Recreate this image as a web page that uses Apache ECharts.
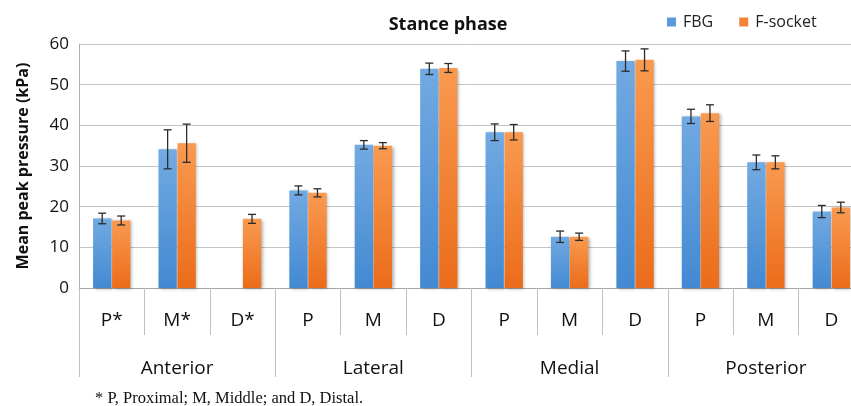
<!DOCTYPE html>
<html>
<head>
<meta charset="utf-8">
<script src="https://cdn.jsdelivr.net/npm/echarts@6/dist/echarts.min.js"></script>
<style>
html,body{margin:0;padding:0;background:#fff;overflow:hidden;width:851px;height:406px;}
#c{width:864px;height:406px;}
#note{position:absolute;left:95px;top:389px;font-family:"Liberation Serif","DejaVu Serif",serif;font-size:16.5px;line-height:18px;color:#111;white-space:nowrap;}
</style>
</head>
<body>
<div id="c"></div>
<div id="note">* P, Proximal; M, Middle; and D, Distal.</div>
<script>
const categories = ['P*','M*','D*','P','M','D','P','M','D','P','M','D'];
const groups = ['Anterior','Lateral','Medial','Posterior'];
const fbg = [17.1, 34.1, null, 24.0, 35.2, 53.9, 38.3, 12.6, 55.8, 42.2, 30.9, 18.8];
const fbgErr = [1.3, 4.8, null, 1.1, 1.05, 1.4, 2.05, 1.4, 2.5, 1.75, 1.8, 1.5];
const fsocket = [16.6, 35.6, 17.0, 23.4, 35.0, 54.1, 38.3, 12.6, 56.1, 43.0, 30.9, 19.8];
const fsocketErr = [1.1, 4.7, 1.1, 1.0, 0.75, 1.1, 1.9, 0.9, 2.7, 2.05, 1.6, 1.3];
const yTicks = [0, 10, 20, 30, 40, 50, 60];

const CAT_GAP = 0.43, BAR_GAP = 0.04;
const FONT = '"Open Sans", sans-serif';

function grad(top, bottom){
  return new echarts.graphic.LinearGradient(0,0,0,1,[{offset:0,color:top},{offset:1,color:bottom}]);
}
function errSeries(vals, errs, side){
  const data = vals.map((v,i)=> v==null ? [i, null, null] : [i, v, errs[i]]);
  return {
    type:'custom', xAxisIndex:0, yAxisIndex:0, z:5, silent:true,
    data: data,
    renderItem: function(params, api){
      const v = api.value(1), e = api.value(2);
      if (v == null || isNaN(v)) return null;
      const i = api.value(0);
      const catW = api.size([1,0])[0];
      const barW = catW*(1-CAT_GAP)/(2+BAR_GAP);
      const off = side*(barW*(1+BAR_GAP))/2;
      const top = api.coord([i, v+e]);
      const bot = api.coord([i, v-e]);
      const x = top[0] + off;
      const cap = 4;
      const st = {stroke:'#2b2b2b', lineWidth:1.3};
      return {type:'group', children:[
        {type:'line', shape:{x1:x,y1:top[1],x2:x,y2:bot[1]}, style:st},
        {type:'line', shape:{x1:x-cap,y1:top[1],x2:x+cap,y2:top[1]}, style:st},
        {type:'line', shape:{x1:x-cap,y1:bot[1],x2:x+cap,y2:bot[1]}, style:st}
      ]};
    }
  };
}

const chart = echarts.init(document.getElementById('c'), null, {renderer:'canvas'});
chart.setOption({
  animation:false,
  textStyle:{fontFamily:FONT},
  title:{text:'Stance phase', left:443, top:11, textAlign:'center',
    textStyle:{fontFamily:FONT, fontSize:18, fontWeight:'bold', color:'#111'}},
  legend:{left:662, top:9, itemWidth:9, itemHeight:9, itemGap:26,
    textStyle:{fontFamily:FONT, fontSize:16, color:'#222', padding:[0,0,0,2]},
    data:[{name:'FBG', icon:'rect', itemStyle:{color:'#5b9ad8'}},
          {name:'F-socket', icon:'rect', itemStyle:{color:'#f58335'}}]},
  grid:{left:79, top:44, right:0, bottom:118, containLabel:false},
  xAxis:[
    {type:'category', data:categories, position:'bottom',
     axisLine:{show:true, lineStyle:{color:'#a6a6a6', width:1}},
     axisTick:{show:true, interval:0, length:47, lineStyle:{color:'#c0c0c0'}},
     axisLabel:{interval:0, margin:23, fontSize:19, color:'#111', fontFamily:FONT}},
    {type:'category', data:groups, position:'bottom', offset:0,
     axisLine:{show:false},
     axisTick:{show:true, interval:0, length:89, lineStyle:{color:'#c0c0c0'}},
     axisLabel:{interval:0, margin:71, fontSize:19, color:'#111', fontFamily:FONT}}
  ],
  yAxis:{type:'value', min:yTicks[0], max:yTicks[yTicks.length-1], interval:10,
    name:'Mean peak pressure (kPa)', nameLocation:'middle', nameGap:48, nameRotate:90,
    nameTextStyle:{fontFamily:FONT, fontSize:16, fontWeight:'bold', color:'#111'},
    axisLine:{show:true, lineStyle:{color:'#b0b0b0'}},
    axisTick:{show:false},
    axisLabel:{fontSize:17, color:'#111', margin:10, fontFamily:FONT},
    splitLine:{lineStyle:{color:'#c4c4c4', width:1}}},
  series:[
    {name:'FBG', type:'bar', data:fbg, barCategoryGap:(CAT_GAP*100)+'%', barGap:(BAR_GAP*100)+'%',
     itemStyle:{color:grad('#72aae2','#4389d2'), shadowBlur:3, shadowColor:'rgba(0,0,0,0.3)', shadowOffsetX:1.5, shadowOffsetY:1}},
    {name:'F-socket', type:'bar', data:fsocket, barCategoryGap:(CAT_GAP*100)+'%', barGap:(BAR_GAP*100)+'%',
     itemStyle:{color:grad('#f99a50','#eb6c1a'), shadowBlur:3, shadowColor:'rgba(0,0,0,0.3)', shadowOffsetX:1.5, shadowOffsetY:1}},
    errSeries(fbg, fbgErr, -1),
    errSeries(fsocket, fsocketErr, 1)
  ]
});
</script>
</body>
</html>
